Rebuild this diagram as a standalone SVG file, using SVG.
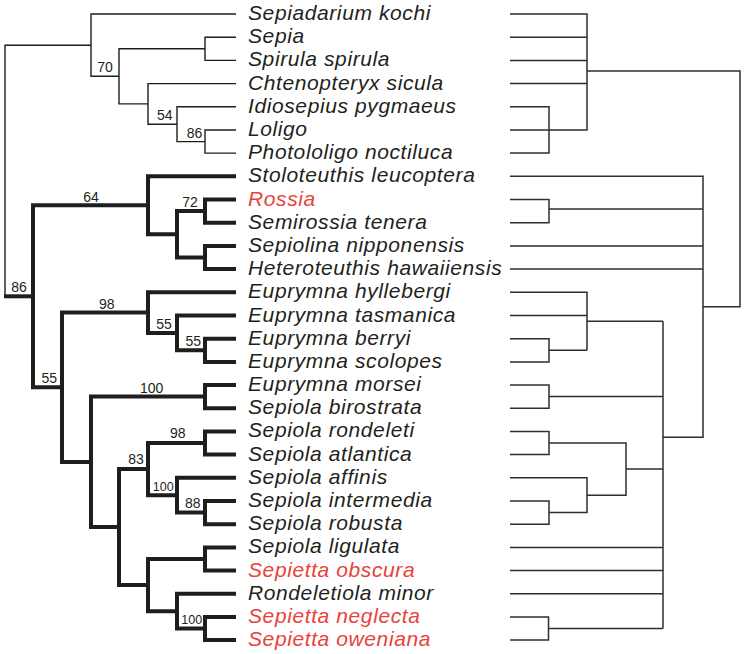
<svg xmlns="http://www.w3.org/2000/svg" width="744" height="654" viewBox="0 0 744 654">
<style>
.tx{font-family:"Liberation Sans",Arial,sans-serif;font-style:italic;font-size:21px;letter-spacing:0.6px;fill:#231f20}
.red{fill:#e8433b}
.bs{font-family:"Liberation Sans",Arial,sans-serif;font-size:14px;fill:#231f20;text-anchor:middle}
.bs2{font-size:12.5px}
.thin{fill:none;stroke:#1e1e1e;stroke-width:1.4;stroke-linejoin:miter}
.thick{fill:none;stroke:#1e1e1e;stroke-width:4;stroke-linejoin:miter}
.rt{fill:none;stroke:#2e2e2e;stroke-width:1.5;stroke-linejoin:miter}
</style>
<rect width="744" height="654" fill="#ffffff"/>
<g id="connectors">
<g id="left-tree-thin">
<path class="thin" d="M91 45.2 H5 V296.3"/>
<path class="thin" d="M236 14 H91 V76.3 H119"/>
<path class="thin" d="M205 48.8 H119 V103.9 H148"/>
<path class="thin" d="M236 37.2 H205 V60.4 H236"/>
<path class="thin" d="M236 83.6 H148 V124.2 H177"/>
<path class="thin" d="M236 106.8 H177 V141.6 H205"/>
<path class="thin" d="M236 130 H205 V153.1 H236"/>
</g>
<g id="left-tree-thick">
<path class="thick" d="M4 296.3 H33"/>
<path class="thick" d="M148 205.3 H33 V387.2 H62"/>
<path class="thick" d="M236 176.3 H148 V234.3 H177"/>
<path class="thick" d="M205 211.1 H177 V257.5 H205"/>
<path class="thick" d="M236 199.5 H205 V222.7 H236"/>
<path class="thick" d="M236 245.9 H205 V269.1 H236"/>
<path class="thick" d="M148 312.6 H62 V461.9 H91"/>
<path class="thick" d="M236 292.3 H148 V332.9 H177"/>
<path class="thick" d="M236 315.5 H177 V350.3 H205"/>
<path class="thick" d="M236 338.7 H205 V361.9 H236"/>
<path class="thick" d="M205 396.6 H91 V527.1 H119"/>
<path class="thick" d="M236 385 H205 V408.2 H236"/>
<path class="thick" d="M148 469.1 H119 V585.1 H148"/>
<path class="thick" d="M205 443 H148 V495.2 H177"/>
<path class="thick" d="M236 431.4 H205 V454.6 H236"/>
<path class="thick" d="M236 477.8 H177 V512.6 H205"/>
<path class="thick" d="M236 501 H205 V524.2 H236"/>
<path class="thick" d="M205 559 H148 V611.2 H177"/>
<path class="thick" d="M236 547.4 H205 V570.6 H236"/>
<path class="thick" d="M236 593.8 H177 V628.6 H205"/>
<path class="thick" d="M236 617 H205 V640.1 H236"/>
</g>
<g id="right-tree">
<path class="rt" d="M510 14 H587 V130 H510"/>
<path class="rt" d="M510 37.2 H587 M510 60.4 H587 M510 83.6 H587"/>
<path class="rt" d="M510 106.8 H549 V153.1 H510"/>
<path class="rt" d="M587 71 H740 V306.7 H703"/>
<path class="rt" d="M510 176.3 H703 V437.3 H663"/>
<path class="rt" d="M510 199.5 H549 V222.7 H510 M549 209 H703"/>
<path class="rt" d="M510 245.9 H703 M510 269.1 H703"/>
<path class="rt" d="M510 292.3 H587 V350.3 M510 315.5 H587 M587 321.3 H663"/>
<path class="rt" d="M510 338.7 H549 V361.9 H510 M549 350.3 H587"/>
<path class="rt" d="M510 385 H549 V408.2 H510 M549 396.6 H663"/>
<path class="rt" d="M663 321.3 V628.6"/>
<path class="rt" d="M510 431.4 H549 V454.6 H510 M549 443 H626 V495.2 H587 M626 469.1 H663"/>
<path class="rt" d="M510 477.8 H587 V512.6 H549"/>
<path class="rt" d="M510 501 H549 V524.2 H510"/>
<path class="rt" d="M510 547.4 H663 M510 570.6 H663 M510 593.8 H663"/>
<path class="rt" d="M510 617 H548.5 V640.1 H510 M548.5 628.6 H663"/>
</g>
</g>
<g id="support-values">
<text class="bs" x="105" y="72">70</text>
<text class="bs" x="164.7" y="120">54</text>
<text class="bs" x="194.5" y="138.3">86</text>
<text class="bs" x="91" y="201.7">64</text>
<text class="bs" x="190" y="206.5">72</text>
<text class="bs" x="19" y="291.8">86</text>
<text class="bs" x="106.7" y="309">98</text>
<text class="bs" x="164" y="329.3">55</text>
<text class="bs" x="193.3" y="345.5">55</text>
<text class="bs" x="49.3" y="382.5">55</text>
<text class="bs" x="151.7" y="393">100</text>
<text class="bs" x="177.7" y="437.8">98</text>
<text class="bs" x="136" y="463.8">83</text>
<text class="bs bs2" x="163.3" y="490.5">100</text>
<text class="bs" x="192.7" y="507.8">88</text>
<text class="bs bs2" x="191.7" y="623.8">100</text>
</g>
<g id="taxa">
<g id="t01"><text class="tx" x="248" y="20">Sepiadarium kochi</text></g>
<g id="t02"><text class="tx" x="248" y="43.2">Sepia</text></g>
<g id="t03"><text class="tx" x="248" y="66.4">Spirula spirula</text></g>
<g id="t04"><text class="tx" x="248" y="89.6">Chtenopteryx sicula</text></g>
<g id="t05"><text class="tx" x="248" y="112.8">Idiosepius pygmaeus</text></g>
<g id="t06"><text class="tx" x="248" y="136">Loligo</text></g>
<g id="t07"><text class="tx" x="248" y="159.1">Photololigo noctiluca</text></g>
<g id="t08"><text class="tx" x="248" y="182.3">Stoloteuthis leucoptera</text></g>
<g id="t09"><text class="tx red" x="248" y="205.5">Rossia</text></g>
<g id="t10"><text class="tx" x="248" y="228.7">Semirossia tenera</text></g>
<g id="t11"><text class="tx" x="248" y="251.9">Sepiolina nipponensis</text></g>
<g id="t12"><text class="tx" x="248" y="275.1">Heteroteuthis hawaiiensis</text></g>
<g id="t13"><text class="tx" x="248" y="298.3">Euprymna hyllebergi</text></g>
<g id="t14"><text class="tx" x="248" y="321.5">Euprymna tasmanica</text></g>
<g id="t15"><text class="tx" x="248" y="344.7">Euprymna berryi</text></g>
<g id="t16"><text class="tx" x="248" y="367.9">Euprymna scolopes</text></g>
<g id="t17"><text class="tx" x="248" y="391">Euprymna morsei</text></g>
<g id="t18"><text class="tx" x="248" y="414.2">Sepiola birostrata</text></g>
<g id="t19"><text class="tx" x="248" y="437.4">Sepiola rondeleti</text></g>
<g id="t20"><text class="tx" x="248" y="460.6">Sepiola atlantica</text></g>
<g id="t21"><text class="tx" x="248" y="483.8">Sepiola affinis</text></g>
<g id="t22"><text class="tx" x="248" y="507">Sepiola intermedia</text></g>
<g id="t23"><text class="tx" x="248" y="530.2">Sepiola robusta</text></g>
<g id="t24"><text class="tx" x="248" y="553.4">Sepiola ligulata</text></g>
<g id="t25"><text class="tx red" x="248" y="576.6">Sepietta obscura</text></g>
<g id="t26"><text class="tx" x="248" y="599.8">Rondeletiola minor</text></g>
<g id="t27"><text class="tx red" x="248" y="623">Sepietta neglecta</text></g>
<g id="t28"><text class="tx red" x="248" y="646.1">Sepietta oweniana</text></g>
</g>
</svg>
